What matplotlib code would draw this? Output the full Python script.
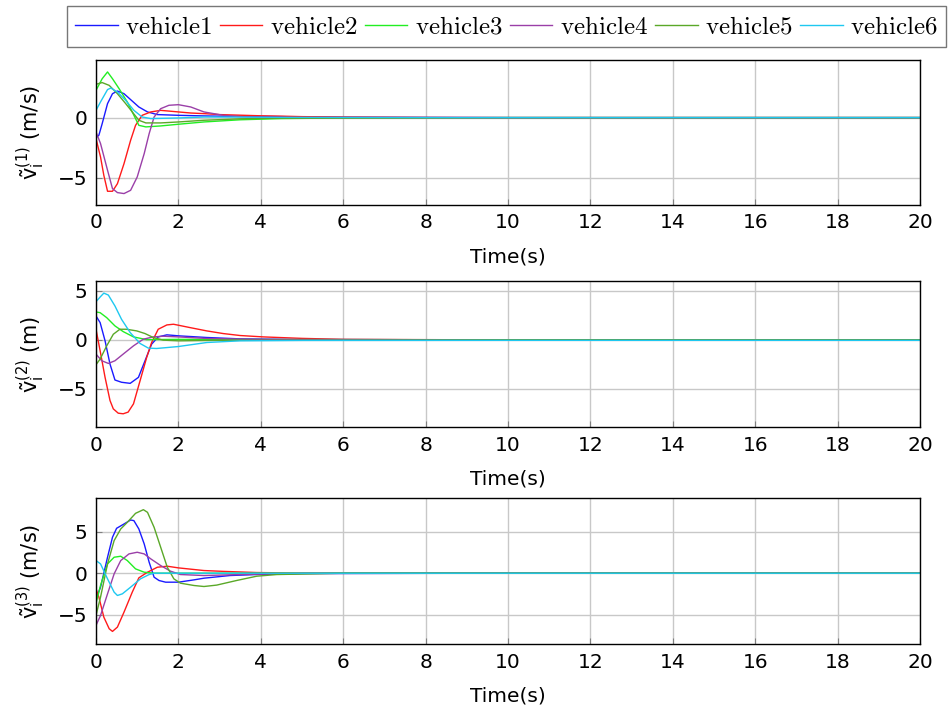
import matplotlib
matplotlib.use("Agg")
import matplotlib.pyplot as plt
from matplotlib.font_manager import FontProperties

# ---- state error of each vehicle, sampled time (s) and values ----
# component 1 (m/s)
t1_v1 = [0, 0.07, 0.15, 0.28, 0.4, 0.52, 0.68, 0.84, 1.04, 1.25, 1.49, 2.0, 2.62, 3.0, 4.0, 5.0, 6.0, 8.0, 10.0, 20.0]
y1_v1 = [-1.66, -1.46, -0.5, 1.16, 1.98, 2.2, 1.98, 1.49, 0.88, 0.47, 0.25, 0.19, 0.14, 0.12, 0.1, 0.06, 0.03, 0.01, 0.0, 0.0]
t1_v2 = [0, 0.11, 0.19, 0.28, 0.4, 0.52, 0.68, 0.84, 0.96, 1.12, 1.33, 1.57, 2.0, 2.3, 2.62, 3.0, 3.5, 4.0, 4.5, 5.0, 6.0, 8.0, 10.0, 20.0]
y1_v2 = [-1.74, -3.26, -4.78, -6.1, -6.1, -5.47, -3.81, -1.88, -0.64, 0.19, 0.47, 0.6, 0.47, 0.38, 0.33, 0.25, 0.2, 0.15, 0.12, 0.08, 0.05, 0.02, 0.0, 0.0]
t1_v3 = [0, 0.15, 0.28, 0.4, 0.56, 0.76, 0.92, 1.04, 1.21, 1.57, 2.0, 2.62, 3.5, 4.5, 6.0, 10.0, 20.0]
y1_v3 = [2.26, 3.22, 3.78, 3.22, 2.4, 1.29, 0.19, -0.64, -0.77, -0.69, -0.55, -0.36, -0.18, -0.08, -0.03, 0.0, 0.0]
t1_v4 = [0, 0.11, 0.28, 0.4, 0.52, 0.68, 0.84, 1.0, 1.17, 1.29, 1.41, 1.57, 1.77, 2.0, 2.3, 2.62, 3.09, 3.5, 4.0, 5.0, 10.0, 20.0]
y1_v4 = [-1.19, -2.15, -4.36, -5.88, -6.21, -6.29, -6.02, -4.92, -2.98, -1.33, 0.05, 0.74, 1.02, 1.07, 0.88, 0.47, 0.19, 0.08, 0.04, 0.0, 0.0, 0.0]
t1_v5 = [0, 0.15, 0.32, 0.52, 0.72, 0.88, 1.04, 1.21, 1.57, 2.0, 2.62, 3.5, 4.5, 10.0, 20.0]
y1_v5 = [2.76, 2.9, 2.67, 1.98, 1.16, 0.47, -0.22, -0.44, -0.44, -0.36, -0.22, -0.1, -0.04, 0.0, 0.0]
t1_v6 = [0, 0.11, 0.28, 0.36, 0.52, 0.72, 0.92, 1.12, 1.33, 2.0, 2.62, 3.5, 4.5, 10.0, 20.0]
y1_v6 = [0.6, 1.3, 2.32, 2.45, 2.12, 1.43, 0.6, 0.05, -0.08, -0.03, 0.05, 0.04, 0.02, 0.0, 0.0]

# component 2 (m)
t2_v1 = [0, 0.1, 0.22, 0.34, 0.46, 0.62, 0.83, 1.03, 1.19, 1.35, 1.51, 1.72, 2.0, 2.69, 3.5, 5.0, 10.0, 20.0]
y2_v1 = [2.43, 1.76, -0.1, -2.47, -4.09, -4.32, -4.43, -3.82, -2.13, -0.44, 0.3, 0.51, 0.41, 0.24, 0.1, 0.03, 0.0, 0.0]
t2_v2 = [0, 0.1, 0.22, 0.34, 0.42, 0.54, 0.66, 0.78, 0.91, 1.07, 1.23, 1.35, 1.51, 1.72, 1.88, 2.0, 2.28, 2.69, 3.09, 3.5, 4.06, 5.0, 6.0, 8.0, 10.0, 20.0]
y2_v2 = [1.08, -1.11, -3.82, -6.18, -7.03, -7.47, -7.53, -7.36, -6.52, -4.16, -1.79, -0.27, 1.08, 1.52, 1.59, 1.49, 1.25, 0.91, 0.64, 0.44, 0.3, 0.15, 0.05, 0.02, 0.0, 0.0]
t2_v3 = [0, 0.1, 0.26, 0.46, 0.66, 0.91, 1.23, 2.0, 4.0, 10.0, 20.0]
y2_v3 = [2.84, 2.77, 2.26, 1.42, 0.84, 0.3, 0.02, 0.05, 0.03, 0.01, 0.0]
t2_v4 = [0, 0.14, 0.3, 0.46, 0.66, 0.91, 1.15, 1.39, 1.63, 2.0, 2.69, 4.0, 10.0, 20.0]
y2_v4 = [-1.45, -2.13, -2.4, -2.13, -1.45, -0.61, 0.07, 0.3, 0.37, 0.3, 0.14, 0.04, 0.0, 0.0]
t2_v5 = [0, 0.1, 0.26, 0.42, 0.58, 0.74, 0.99, 1.19, 1.39, 1.63, 2.0, 3.0, 10.0, 20.0]
y2_v5 = [-2.53, -1.96, -0.61, 0.57, 1.08, 1.08, 0.91, 0.64, 0.24, -0.03, -0.1, -0.05, 0.0, 0.0]
t2_v6 = [0, 0.1, 0.19, 0.3, 0.46, 0.62, 0.83, 1.07, 1.27, 1.47, 2.0, 2.69, 3.5, 5.0, 10.0, 20.0]
y2_v6 = [3.89, 4.36, 4.76, 4.56, 3.45, 2.09, 0.74, -0.37, -0.84, -0.88, -0.68, -0.27, -0.1, -0.06, -0.05, -0.05]

# component 3 (m/s)
t3_v1 = [0, 0.11, 0.28, 0.4, 0.5, 0.68, 0.84, 0.92, 1.04, 1.17, 1.29, 1.41, 1.53, 1.69, 2.0, 2.38, 2.62, 3.25, 3.9, 5.0, 10.0, 20.0]
y3_v1 = [-3.08, -1.68, 1.92, 4.32, 5.4, 5.92, 6.4, 6.32, 5.32, 3.52, 1.32, -0.48, -0.88, -1.08, -1.08, -0.8, -0.6, -0.28, -0.16, -0.04, 0.0, 0.0]
t3_v2 = [0, 0.07, 0.19, 0.32, 0.4, 0.52, 0.68, 0.88, 1.04, 1.25, 1.49, 1.73, 2.0, 2.62, 3.09, 3.9, 5.0, 10.0, 20.0]
y3_v2 = [-1.88, -2.88, -5.28, -6.68, -7.0, -6.48, -4.68, -2.28, -0.56, 0.12, 0.72, 0.84, 0.64, 0.32, 0.22, 0.08, 0.02, 0.0, 0.0]
t3_v3 = [0, 0.11, 0.28, 0.44, 0.6, 0.76, 0.96, 1.17, 1.41, 2.0, 10.0, 20.0]
y3_v3 = [-3.6, -1.48, 1.12, 1.92, 2.04, 1.52, 0.52, 0.12, 0.0, 0.0, 0.0, 0.0]
t3_v4 = [0, 0.11, 0.28, 0.44, 0.6, 0.8, 1.0, 1.17, 1.33, 1.57, 1.81, 2.05, 2.62, 3.5, 5.0, 10.0, 20.0]
y3_v4 = [-6.28, -5.08, -2.48, -0.08, 1.52, 2.32, 2.52, 2.32, 1.72, 0.92, 0.24, -0.16, -0.28, -0.16, -0.03, 0.0, 0.0]
t3_v5 = [0, 0.11, 0.28, 0.44, 0.6, 0.76, 0.96, 1.15, 1.25, 1.41, 1.57, 1.73, 1.89, 2.05, 2.38, 2.62, 2.93, 3.41, 3.9, 4.39, 6.0, 10.0, 20.0]
y3_v5 = [-5.08, -2.88, 1.12, 3.92, 5.32, 6.12, 7.2, 7.64, 7.32, 5.52, 3.12, 0.72, -0.68, -1.2, -1.48, -1.6, -1.43, -0.88, -0.36, -0.16, 0.0, 0.0, 0.0]
t3_v6 = [0, 0.11, 0.28, 0.44, 0.52, 0.64, 0.84, 1.08, 1.29, 1.41, 2.0, 10.0, 20.0]
y3_v6 = [1.52, 1.12, -0.68, -2.28, -2.68, -2.48, -1.68, -0.68, -0.16, 0.0, 0.0, 0.0, 0.0]

names = ["vehicle1", "vehicle2", "vehicle3", "vehicle4", "vehicle5", "vehicle6"]
colors = ["#1a1aff", "#ff1a1a", "#22ee22", "#9a3fa8", "#5aa828", "#1ec8f0"]

panels = [
    ([t1_v1, t1_v2, t1_v3, t1_v4, t1_v5, t1_v6], [y1_v1, y1_v2, y1_v3, y1_v4, y1_v5, y1_v6],
     r"$\tilde{\mathrm{v}}_{\mathrm{i}}^{(1)}$ (m/s)", (-7.25, 4.8), [-5, 0]),
    ([t2_v1, t2_v2, t2_v3, t2_v4, t2_v5, t2_v6], [y2_v1, y2_v2, y2_v3, y2_v4, y2_v5, y2_v6],
     r"$\tilde{\mathrm{v}}_{\mathrm{i}}^{(2)}$ (m)", (-8.9, 6.0), [-5, 0, 5]),
    ([t3_v1, t3_v2, t3_v3, t3_v4, t3_v5, t3_v6], [y3_v1, y3_v2, y3_v3, y3_v4, y3_v5, y3_v6],
     r"$\tilde{\mathrm{v}}_{\mathrm{i}}^{(3)}$ (m/s)", (-8.55, 9.0), [-5, 0, 5]),
]

fig = plt.figure(figsize=(9.49, 7.05), dpi=100)
left, width = 96 / 949, 824 / 949
boxes = [(0.709, 0.2064), (0.394, 0.2075), (0.0861, 0.207)]

handles = []
for (ts, ys, ylab, ylim, yticks), (bottom, height) in zip(panels, boxes):
    ax = fig.add_axes([left, bottom, width, height])
    lines = []
    for t, y, c, n in zip(ts, ys, colors, names):
        ln, = ax.plot(t, y, color=c, lw=1.0, label=n)
        lines.append(ln)
    handles = lines
    ax.set_xlim(0, 20)
    ax.set_ylim(*ylim)
    ax.set_xticks(range(0, 21, 2))
    ax.set_yticks(yticks)
    ax.set_yticklabels([f"{v}".replace("-", "\u2212") for v in yticks])
    ax.grid(True, color="#c8c8c8", lw=1.0)
    ax.set_axisbelow(True)
    ax.tick_params(direction="in", length=4, color="#808080", labelsize=14.5, pad=6)
    for s in ax.spines.values():
        s.set_linewidth(1.0)
        s.set_color("black")
    ax.set_xlabel("Time(s)", fontsize=14.5, labelpad=11)
    ax.set_ylabel(ylab, fontsize=15, labelpad=8)

leg_prop = FontProperties(size=18, math_fontfamily="cm")
fig.legend(handles, [r"$\mathrm{%s}$" % n for n in names], loc="upper center",
           bbox_to_anchor=(0.5337, 0.9915), ncol=6, prop=leg_prop, frameon=True,
           fancybox=False, edgecolor="#555555", handlelength=1.7, handletextpad=0.3,
           columnspacing=0.3, borderpad=0.35, borderaxespad=0.0)

fig.savefig("out.png", dpi=100)
